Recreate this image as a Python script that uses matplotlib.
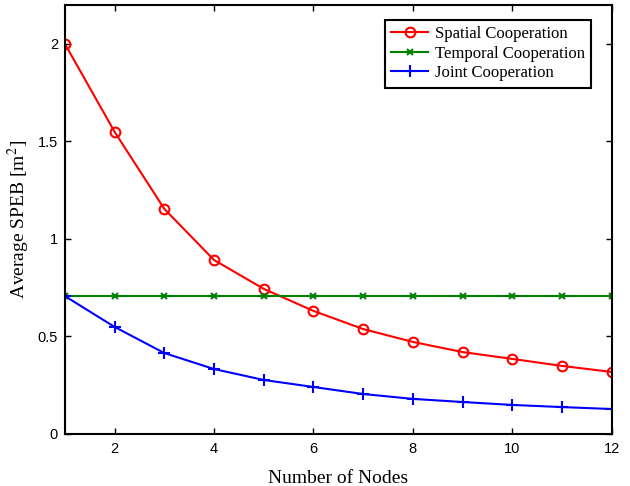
import numpy as np
import matplotlib.pyplot as plt

plt.rcParams['mathtext.fontset'] = 'stix'

nodes = [1, 2, 3, 4, 5, 6, 7, 8, 9, 10, 11, 12]
spatial = [2.0, 1.549, 1.154, 0.892, 0.744, 0.631, 0.538, 0.472, 0.42, 0.385, 0.349, 0.318]
temporal = [0.707] * 12
joint = [0.707, 0.549, 0.415, 0.333, 0.277, 0.241, 0.205, 0.18, 0.164, 0.149, 0.138, 0.128]

fig = plt.figure(figsize=(6.3, 4.86), dpi=100)
ax = fig.add_axes([0.103, 0.107, 0.868, 0.883])

ax.plot(nodes, spatial, color='red', marker='o', markersize=7, markerfacecolor='none',
        markeredgewidth=1.5, linewidth=1.5, label='Spatial Cooperation')
ax.plot(nodes, temporal, color='#008000', marker='x', markersize=5, markeredgewidth=1.5,
        linewidth=1.5, label='Temporal Cooperation')
ax.plot(nodes, joint, color='blue', marker='+', markersize=8, markeredgewidth=1.5,
        linewidth=1.5, label='Joint Cooperation')

ax.set_xlim(1, 12)
ax.set_ylim(0, 2.2)
ax.set_xticks([2, 4, 6, 8, 10, 12])
ax.set_yticks([0, 0.5, 1, 1.5, 2])
ax.set_yticklabels(['0', '0.5', '1', '1.5', '2'])
ax.tick_params(direction='in', top=True, right=True, labelsize=10.5, length=4, width=1)
ax.tick_params(axis='x', pad=6)
ax.tick_params(axis='y', pad=5)
for lbl in ax.get_xticklabels() + ax.get_yticklabels():
    lbl.set_family('Liberation Sans')
for s in ax.spines.values():
    s.set_linewidth(1.5)

ax.set_xlabel('Number of Nodes', family='Liberation Serif', fontsize=14, labelpad=10)
ax.set_ylabel('Average SPEB [m$^2$]', family='Liberation Serif', fontsize=14)

leg = ax.legend(loc='upper right', bbox_to_anchor=(0.978, 0.985), fancybox=False,
                edgecolor='black', framealpha=1, prop={'family': 'Liberation Serif', 'size': 12},
                handlelength=2.2, handletextpad=0.4, borderpad=0.4, labelspacing=0.2)
leg.get_frame().set_linewidth(1.5)

fig.savefig('out.png', dpi=100)
